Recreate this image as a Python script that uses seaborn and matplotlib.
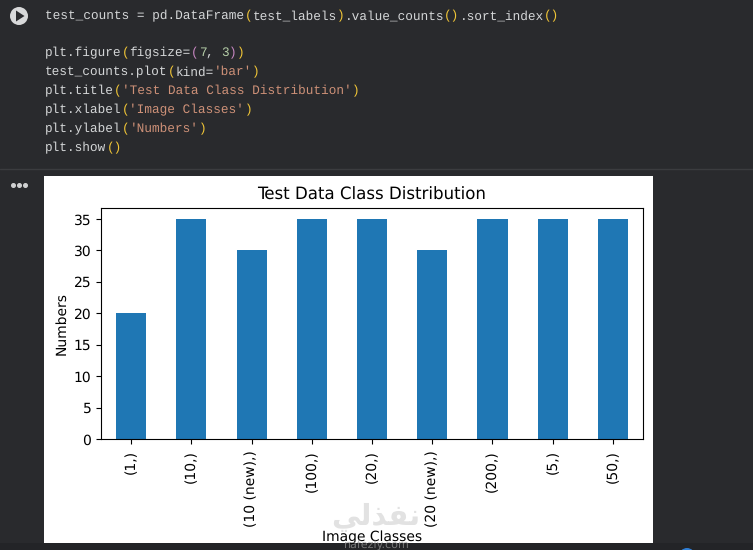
import matplotlib
matplotlib.use('Agg')
import matplotlib.pyplot as plt
import pandas as pd
import seaborn as sns
from matplotlib.patches import Circle, Polygon, Rectangle

# Values
classes = ['(1,)', '(10,)', '(10 (new),)', '(100,)', '(20,)', '(20 (new),)', '(200,)', '(5,)', '(50,)']
counts = [20, 35, 30, 35, 35, 30, 35, 35, 35]

# Notebook cell text, split in (text, colour) pieces
WHITE = '#d5d7d8'
YEL = '#f0c537'
PUR = '#c586c0'
STR = '#ce9178'
NUM = '#b5cea8'
code_lines = [
    (16, [('test_counts = pd.DataFrame', WHITE), ('(', YEL), ('test_labels', WHITE), (')', YEL),
          ('.value_counts', WHITE), ('()', YEL), ('.sort_index', WHITE), ('()', YEL)]),
    (53, [('plt.figure', WHITE), ('(', YEL), ('figsize=', WHITE), ('(', PUR), ('7', NUM), (', ', WHITE),
          ('3', NUM), (')', PUR), (')', YEL)]),
    (72, [('test_counts.plot', WHITE), ('(', YEL), ('kind=', WHITE), ("'bar'", STR), (')', YEL)]),
    (91, [('plt.title', WHITE), ('(', YEL), ("'Test Data Class Distribution'", STR), (')', YEL)]),
    (110, [('plt.xlabel', WHITE), ('(', YEL), ("'Image Classes'", STR), (')', YEL)]),
    (129, [('plt.ylabel', WHITE), ('(', YEL), ("'Numbers'", STR), (')', YEL)]),
    (148, [('plt.show', WHITE), ('()', YEL)]),
]

W, H = 753, 550
BG = '#292a2d'

sns.set_theme(style='ticks', rc={'font.family': 'DejaVu Sans'})
plt.rcParams['text.hinting'] = 'no_hinting'
fig = plt.figure(figsize=(W / 100, H / 100), dpi=100, facecolor=BG)

# full-figure pixel layer for the notebook chrome
bg = fig.add_axes([0, 0, 1, 1], zorder=0)
bg.set_xlim(0, W)
bg.set_ylim(H, 0)
bg.axis('off')
bg.add_patch(Rectangle((44, 176), 609, 367, fc='white', ec='none'))
bg.add_patch(Rectangle((0, 543), W, 7, fc='#232427', ec='none'))
bg.plot([0, W], [168.5, 168.5], color='#3b3c3f', lw=1)
bg.add_patch(Circle((19, 16), 9, fc='#d8d9da', ec='none'))
bg.add_patch(Polygon([(16, 10.5), (16, 21.5), (24.5, 16)], fc='#2b2c2f', ec='none'))
bg.plot([13, 19, 25], [185, 185, 185], ls='none', marker='o', ms=2.6, color='#d0d1d2')
bg.add_patch(Circle((687, 556), 8, fc='#2f7fd6', ec='none'))

char_w = 7.68
for y, parts in code_lines:
    n = 0
    for txt, col in parts:
        bg.text(45 + n * char_w, y, txt, color=col, family='Liberation Mono', fontsize=9.15,
                ha='left', va='center')
        n += len(txt)

# the chart itself
ax = fig.add_axes([101 / W, 1 - 439 / H, 542 / W, 231 / H], zorder=1)
df = pd.DataFrame({'classe': classes, 'count': counts})
sns.barplot(data=df, x='classe', y='count', color='#1f77b4', saturation=1, width=0.5, linewidth=0, ax=ax)
ax.set_xlim(-0.5, 8.5)
ax.set_ylim(0, 36.75)
ax.set_facecolor('white')
ax.set_yticks(range(0, 36, 5))
ax.tick_params(axis='x', rotation=90, labelsize=10, length=3.5, width=0.8, pad=4.5, color='black', labelcolor='black')
ax.tick_params(axis='y', labelsize=10, length=3.5, width=0.8, color='black', labelcolor='black')
for s in ax.spines.values():
    s.set_visible(True)
    s.set_color('black')
    s.set_linewidth(0.8)
ax.set_title('Test Data Class Distribution', fontsize=12, color='black', pad=6)
ax.set_ylabel('Numbers', fontsize=10, color='black')
ax.set_xlabel('')

# x label sits low, by the bottom edge of the output
bg.text(372, 537, 'Image Classes', fontsize=10, color='black', ha='center', va='center', zorder=4)

# watermark: Arabic logo in presentation forms, drawn left to right, and the site name
fig.text(376 / W, 1 - 517 / H, '\ufef2\ufedf\ufeac\ufed4\ufee7', fontsize=21, fontweight='bold',
         color='#e2e2e2', ha='center', va='center', zorder=3)
bg.text(377, 544.5, 'nafezly.com', fontsize=8, color='#9a9a9a', alpha=0.7, ha='center', va='center', zorder=5)

fig.savefig('out.png', dpi=100, facecolor=fig.get_facecolor())
